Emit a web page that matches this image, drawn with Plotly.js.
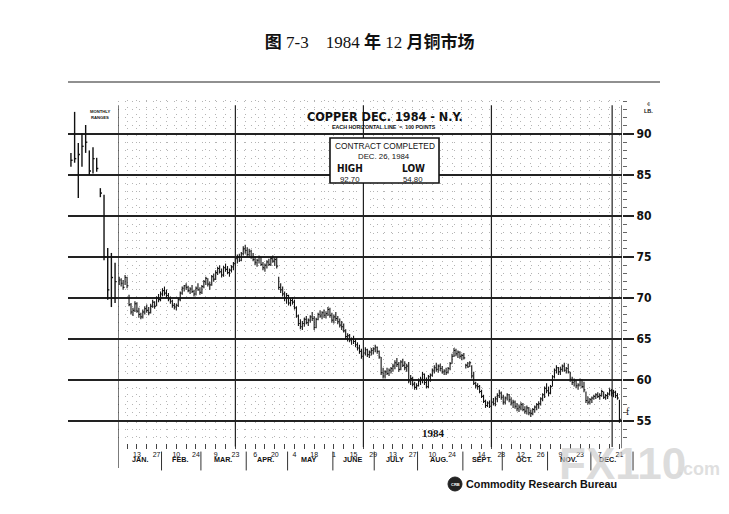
<!DOCTYPE html>
<html>
<head>
<meta charset="utf-8">
<script src="https://cdn.plot.ly/plotly-3.0.1.min.js"></script>
<style>html,body{margin:0;padding:0;background:#fff;}#chart{width:729px;height:514px;}</style>
</head>
<body>
<div id="chart"></div>
<script>
// ---- Monthly ranges (left panel), 13 months before the daily chart ----
var monthHigh  = [87.7, 92.7, 88.9, 90.1, 91.1, 88.0, 88.4, 87.1, 83.4, 82.6, 76.1, 75.5, 74.3];
var monthLow   = [86.0, 86.5, 82.2, 86.0, 87.7, 85.0, 85.2, 85.4, 82.3, 74.6, 69.8, 68.9, 69.4];
var monthClose = [86.8, 87.0, 87.5, 88.5, 89.0, 85.5, 87.0, 85.8, 82.8, 75.0, 71.0, 72.5, 72.0];

// ---- Daily bars, 1984 (one entry per weekday from Jan 2) ----
var dailyHigh = [
72.6,72.4,72.2,72.8,72.6,70.4,69.4,68.8,69.6,69.5,
68.8,68.2,68.6,69.0,69.2,68.9,69.3,69.8,69.6,70.2,
70.5,70.8,71.2,71.4,71.0,70.6,70.2,69.8,69.4,69.3,
70.0,70.8,71.4,71.6,71.8,71.5,71.3,71.6,71.0,71.4,
71.8,71.3,71.6,72.2,72.6,72.4,72.0,72.8,73.0,73.4,
73.8,74.0,73.6,73.9,74.2,73.9,73.6,74.0,74.4,75.0,
75.3,75.4,75.6,76.3,76.5,76.2,76.0,75.9,75.5,75.1,
74.8,75.2,75.0,74.4,74.2,74.6,74.8,75.0,75.2,74.9,
75.0,72.6,71.8,71.4,70.8,70.6,70.4,70.0,70.1,69.8,
69.0,68.0,67.4,67.2,67.6,67.8,67.5,67.9,68.3,67.8,
67.6,68.2,68.5,68.4,68.6,68.4,68.9,68.8,68.2,68.0,
68.3,67.8,67.5,67.2,66.9,66.2,65.7,65.6,65.2,65.4,
65.0,64.6,64.3,63.8,63.6,64.0,63.8,63.6,63.9,64.0,
64.3,64.1,63.6,62.8,61.5,61.2,61.5,61.4,61.6,62.0,
62.4,62.7,62.2,62.4,62.6,62.3,62.0,62.2,60.6,60.4,
59.8,59.6,60.2,60.4,61.0,60.8,60.3,60.6,60.8,61.4,
61.8,62.1,61.9,62.0,61.7,61.3,61.5,61.6,62.2,63.2,
63.9,63.8,63.6,63.5,63.2,63.3,62.0,62.2,62.3,61.8,
61.0,59.8,59.6,59.4,58.8,58.2,57.6,57.4,57.5,57.6,
57.8,58.0,58.4,58.8,58.6,58.2,58.0,58.4,58.3,57.9,
57.6,57.5,57.2,57.0,57.3,57.2,56.8,56.9,56.7,56.4,
56.6,56.9,57.2,57.4,57.9,58.4,59.2,59.6,59.2,59.4,
60.6,61.4,61.8,61.6,61.6,61.9,62.1,61.6,62.0,61.0,
60.4,60.2,60.0,59.6,60.2,60.1,59.8,58.6,58.0,57.8,
58.0,58.2,58.4,58.5,58.4,58.8,58.6,58.3,58.5,59.0,
58.9,58.8,58.7,58.4,57.6];
var dailyLow = [
71.6,71.4,71.0,71.6,71.2,69.0,68.0,67.8,68.3,68.2,
67.6,67.4,67.5,68.0,68.2,67.9,68.1,68.8,68.7,69.0,
69.5,69.6,70.2,70.3,70.0,69.6,69.3,68.8,68.6,68.5,
68.9,69.6,70.4,70.8,71.0,70.7,70.5,70.6,70.2,70.3,
70.9,70.4,70.5,71.2,71.6,71.4,71.0,71.5,72.0,72.2,
72.8,73.0,72.5,72.6,73.2,72.9,72.6,73.1,73.4,73.9,
74.2,74.4,74.5,75.2,75.4,75.0,74.9,74.8,74.5,74.0,
73.8,74.2,73.9,73.4,73.2,73.6,73.9,73.9,74.3,73.9,
73.6,71.0,70.6,70.2,69.6,69.3,69.1,69.0,69.2,68.6,
67.6,66.6,66.2,66.1,66.5,66.8,66.6,67.0,67.2,66.1,
66.3,67.3,67.6,67.4,67.6,67.5,67.8,67.6,67.0,66.9,
67.2,66.8,66.4,66.1,65.8,65.0,64.7,64.6,64.3,64.4,
64.0,63.6,63.2,62.6,62.4,63.0,62.8,62.7,63.0,63.1,
63.4,63.2,62.6,60.6,60.2,60.2,60.6,60.5,60.8,61.0,
61.3,61.6,61.0,61.2,61.6,61.2,61.0,59.6,59.4,59.2,
58.8,58.8,59.2,59.4,59.6,59.4,59.0,59.0,59.8,60.4,
60.8,61.0,60.9,61.1,60.8,60.6,60.6,60.8,61.2,62.0,
62.8,62.9,62.7,62.6,62.4,62.5,61.4,61.5,61.6,60.2,
59.4,59.0,58.8,58.4,57.8,57.2,56.6,56.7,56.6,56.7,
56.9,56.8,57.3,57.8,57.6,57.0,57.0,57.5,57.3,56.9,
56.6,56.5,56.2,56.1,56.3,56.2,55.9,55.8,55.7,55.5,
55.7,56.0,56.3,56.5,56.9,57.4,57.8,58.4,58.0,58.3,
59.2,60.2,60.8,60.6,60.6,61.0,61.0,60.8,60.8,59.8,
59.4,59.2,59.0,58.8,59.2,59.0,58.5,57.2,57.0,57.0,
57.2,57.6,57.7,57.8,57.6,58.0,57.7,57.6,57.7,58.1,
58.0,57.9,57.8,57.6,54.8];
var dailyClose = [
72.2,71.8,71.3,72.5,71.5,69.2,68.3,68.5,69.3,68.4,
68.0,67.7,68.3,68.7,68.5,68.2,69.0,69.5,69.0,70.0,
69.8,70.5,70.9,70.6,70.3,69.9,69.6,69.1,68.9,69.1,
69.8,70.6,71.2,71.5,71.3,70.9,71.1,70.8,70.5,71.2,
71.0,70.7,71.4,72.0,72.4,71.7,71.6,72.6,72.3,73.1,
73.6,73.2,72.8,73.7,73.5,73.1,73.4,73.8,74.2,74.8,
75.0,74.6,75.4,76.0,75.8,75.3,75.7,75.0,74.7,74.3,
74.6,75.0,74.1,73.7,74.0,74.4,74.1,74.8,74.5,74.7,
73.9,71.3,71.0,70.5,70.0,70.3,69.4,69.7,69.5,68.8,
67.8,66.9,66.5,66.9,67.4,67.0,67.3,67.7,67.5,66.4,
67.4,68.0,67.8,68.2,67.9,68.1,68.6,67.9,67.3,67.7,
67.5,67.1,66.7,66.5,66.0,65.3,65.4,64.9,65.0,64.7,
64.3,63.9,63.5,62.9,63.3,63.7,63.1,63.4,63.6,63.8,
64.0,63.5,62.8,60.9,60.5,61.0,60.8,61.2,61.4,61.7,
62.1,61.9,61.3,62.2,61.8,61.5,61.7,59.9,60.2,59.5,
59.1,59.3,59.9,60.1,60.7,59.7,59.2,60.4,60.6,61.2,
61.5,61.3,61.7,61.4,61.0,61.1,60.9,61.4,62.0,62.9,
63.6,63.2,63.4,62.9,63.0,62.7,61.8,61.6,62.1,60.5,
59.6,59.3,59.2,58.6,58.0,57.4,56.9,57.2,56.8,57.3,
57.1,57.7,58.1,58.4,57.9,57.3,57.8,58.2,57.6,57.2,
57.3,56.8,56.5,56.7,57.0,56.4,56.2,56.6,56.0,55.9,
56.4,56.7,57.0,57.1,57.7,58.2,59.0,58.7,58.4,59.2,
60.4,61.2,61.5,61.0,61.3,61.7,61.2,61.4,61.0,60.1,
59.7,59.9,59.3,59.4,60.0,59.2,58.8,57.5,57.3,57.6,
57.8,58.0,58.2,58.0,58.1,58.6,57.9,58.1,58.3,58.7,
58.4,58.5,58.1,57.8,55.2];

// ---- Axis labels ----
var fridayLabels = ['', '13', '', '27', '', '10', '', '24', '', '9', '', '23', '', '6', '', '20', '', '4', '', '18',
  '', '1', '', '15', '', '29', '', '13', '', '27', '', '10', '', '24', '', '', '14', '', '28', '', '12', '', '26',
  '', '9', '', '23', '', '7', '', '21'];
var monthNames = ['JAN.', 'FEB.', 'MAR.', 'APR.', 'MAY', 'JUNE', 'JULY', 'AUG.', 'SEPT.', 'OCT.', 'NOV.', 'DEC.'];
var monthEndDay = [21, 41, 64, 85, 108, 129, 151, 174, 194, 217, 239, 260];
var priceTicks = [55, 60, 65, 70, 75, 80, 85, 90];

// ---- build bar paths ----
function barPath(xs, hi, lo, cl, tick) {
  var X = [], Y = [];
  for (var i = 0; i < hi.length; i++) {
    X.push(xs[i], xs[i], null, xs[i], xs[i] + tick, null);
    Y.push(lo[i], hi[i], null, cl[i], cl[i], null);
  }
  return {x: X, y: Y};
}
var dayX = dailyHigh.map(function (_, i) { return i; });
var monX = monthHigh.map(function (_, i) { return i + 1; });
var dPath = barPath(dayX, dailyHigh, dailyLow, dailyClose, 0.7);
var mPath = barPath(monX, monthHigh, monthLow, monthClose, 0.45);

var traces = [
  {type: 'scatter', mode: 'lines', x: mPath.x, y: mPath.y, xaxis: 'x', yaxis: 'y2',
   line: {color: '#111', width: 1.4}, connectgaps: false, hoverinfo: 'skip'},
  {type: 'scatter', mode: 'lines', x: dPath.x, y: dPath.y, xaxis: 'x2', yaxis: 'y',
   line: {color: '#111', width: 1.1}, connectgaps: false, hoverinfo: 'skip'}
];

var fridayVals = fridayLabels.map(function (_, w) { return 5 * w + 4; });

var yr = [52.32, 94.15];
var split = 50 / 554;

var shapes = [];
// top rule
shapes.push({type: 'line', xref: 'paper', yref: 'paper', x0: 0, x1: 1.0686, y0: 1.0525, y1: 1.0525,
  line: {color: '#222', width: 1.2}});
// vertical heavy lines of daily panel
[[-0.6, -0.073], [59, -0.01], [124, -0.012], [189, -0.012], [250.3, -0.012], [255.3, -0.015]].forEach(function (v) {
  shapes.push({type: 'line', xref: 'x2', yref: 'paper', x0: v[0], x1: v[0], y0: v[1], y1: 0.985,
    line: {color: '#222', width: 1.2}});
});
// month separators below axis
monthEndDay.forEach(function (d, k) {
  var xx = d + 0.5;
  if (k === monthEndDay.length - 1) {
    shapes.push({type: 'line', xref: 'paper', yref: 'paper', x0: 1.0199, x1: 1.0199, y0: -0.025, y1: -0.08,
      line: {color: '#333', width: 1}});
  } else {
    shapes.push({type: 'line', xref: 'x2', yref: 'paper', x0: xx, x1: xx, y0: -0.025, y1: -0.08,
      line: {color: '#333', width: 1}});
  }
});
// info box
shapes.push({type: 'rect', xref: 'paper', yref: 'paper', x0: 0.4729, x1: 0.6697, y0: 0.758, y1: 0.889,
  fillcolor: '#fff', line: {color: '#111', width: 1.6}, layer: 'above'});
// CRB logo
shapes.push({type: 'circle', xref: 'paper', yref: 'paper', x0: (448 - 68) / 554, x1: (462 - 68) / 554,
  y0: (443 - 491) / 343, y1: (443 - 477) / 343, fillcolor: '#222', line: {color: '#222', width: 1}});

function px2x(p) { return (p - 68) / 554; }
function py2y(p) { return (443 - p) / 343; }

var annotations = [];
function addText(t, px, py, size, opts) {
  opts = opts || {};
  annotations.push({xref: 'paper', yref: 'paper', x: px2x(px), y: py2y(py), text: t, showarrow: false,
    xanchor: opts.xanchor || 'center', yanchor: 'middle',
    font: {family: opts.family || 'Liberation Sans, Arial, sans-serif', size: size, color: opts.color || '#111',
      weight: opts.weight || 'normal'}});
}
var narrow = 'Liberation Sans Narrow, DejaVu Sans Condensed, sans-serif';
addText('COPPER DEC. 1984 - N.Y.', 385, 116.5, 12.5, {family: narrow, weight: 'bold'});
addText('EACH HORIZONTAL LINE  =  100 POINTS', 384, 126.5, 5.3, {weight: 'bold'});
addText('CONTRACT COMPLETED', 385, 146, 8.3);
addText('DEC. 26, 1984', 384, 156.5, 7.8);
addText('HIGH', 350, 168, 10, {family: narrow, weight: 'bold'});
addText('LOW', 413, 168, 10, {family: narrow, weight: 'bold'});
addText('92.70', 350, 179, 7.8);
addText('54.80', 413, 179, 7.8);
addText('MONTHLY', 100, 112, 4.2, {weight: 'bold'});
addText('RANGES', 100, 117, 4.2, {weight: 'bold'});
addText('¢', 648, 104, 6);
addText('LB.', 648, 111, 5.5, {weight: 'bold'});
addText('1984', 433, 433, 11, {family: 'Liberation Serif, serif', weight: 'bold'});
addText('f', 628, 411, 10, {family: 'Liberation Serif, serif'});
addText('Commodity Research Bureau', 541, 484, 10.8, {weight: 'bold'});
addText('CRB', 455, 484, 4, {color: '#fff', weight: 'bold'});
// month names
monthNames.forEach(function (m, k) {
  var start = k === 0 ? 0 : monthEndDay[k - 1];
  var mid = (start + monthEndDay[k]) / 2;
  if (k === monthNames.length - 1) mid = 248;
  annotations.push({xref: 'x2', yref: 'paper', x: mid, y: py2y(466), text: m, showarrow: false,
    font: {family: 'Liberation Sans, Arial, sans-serif', size: 7.2, color: '#111', weight: 'bold'}});
});
// watermark
addText('FX110', 622, 463, 44, {family: 'Liberation Sans, Arial, sans-serif', weight: 'bold', color: 'rgba(205,205,205,0.7)'});
addText('.com', 699, 469, 18, {family: 'Liberation Sans, Arial, sans-serif', weight: 'bold', color: 'rgba(215,215,215,0.8)'});

var dotColor = '#b4b4b4';
var layout = {
  width: 729, height: 514,
  margin: {l: 68, r: 107, t: 100, b: 71},
  paper_bgcolor: '#fff', plot_bgcolor: '#fff',
  showlegend: false,
  title: {text: '<b>图</b> 7-3&nbsp;&nbsp;&nbsp;&nbsp;1984 <b>年</b> 12 <b>月铜市场</b>',
    x: 0.507, xref: 'container', xanchor: 'center', y: 1 - 42 / 514, yref: 'container', yanchor: 'middle',
    font: {family: 'Liberation Serif, Noto Sans CJK SC, serif', size: 17, color: '#111'}},
  xaxis: {domain: [0, split], range: [0.2, 13.8], anchor: 'y2', showgrid: false, zeroline: false,
    showticklabels: false, ticks: '', showline: false, fixedrange: true},
  yaxis2: {range: yr, anchor: 'x', showgrid: true, gridcolor: '#222', gridwidth: 1.1, tick0: 0, dtick: 5,
    showticklabels: false, ticks: '', zeroline: false, showline: false},
  xaxis2: {domain: [split, 1], range: [-0.6, 255.3], anchor: 'y', zeroline: false,
    tickmode: 'array', tickvals: fridayVals, ticktext: fridayLabels,
    showgrid: true, gridcolor: dotColor, gridwidth: 1, griddash: '1px,6px',
    ticks: 'outside', ticklen: 5, tickwidth: 1, tickcolor: '#444',
    tickfont: {family: 'Liberation Sans, Arial, sans-serif', size: 7, color: '#111'},
    showline: false},
  yaxis: {range: yr, anchor: 'x2', side: 'right', zeroline: false,
    tickmode: 'array', tickvals: priceTicks, ticktext: priceTicks.map(String),
    showgrid: true, gridcolor: '#222', gridwidth: 1.1,
    ticks: 'outside', ticklen: 11, tickwidth: 1.1, tickcolor: '#222',
    tickfont: {family: narrow, size: 12, color: '#111', weight: 'bold'},
    minor: {tickmode: 'linear', tick0: 0, dtick: 1, showgrid: true, gridcolor: dotColor, griddash: '1px,6px',
      gridwidth: 1, ticks: 'outside', ticklen: 4, tickcolor: '#666'},
    showline: false},
  shapes: shapes,
  annotations: annotations
};

Plotly.newPlot('chart', traces, layout, {staticPlot: true, displayModeBar: false});
</script>
</body>
</html>
